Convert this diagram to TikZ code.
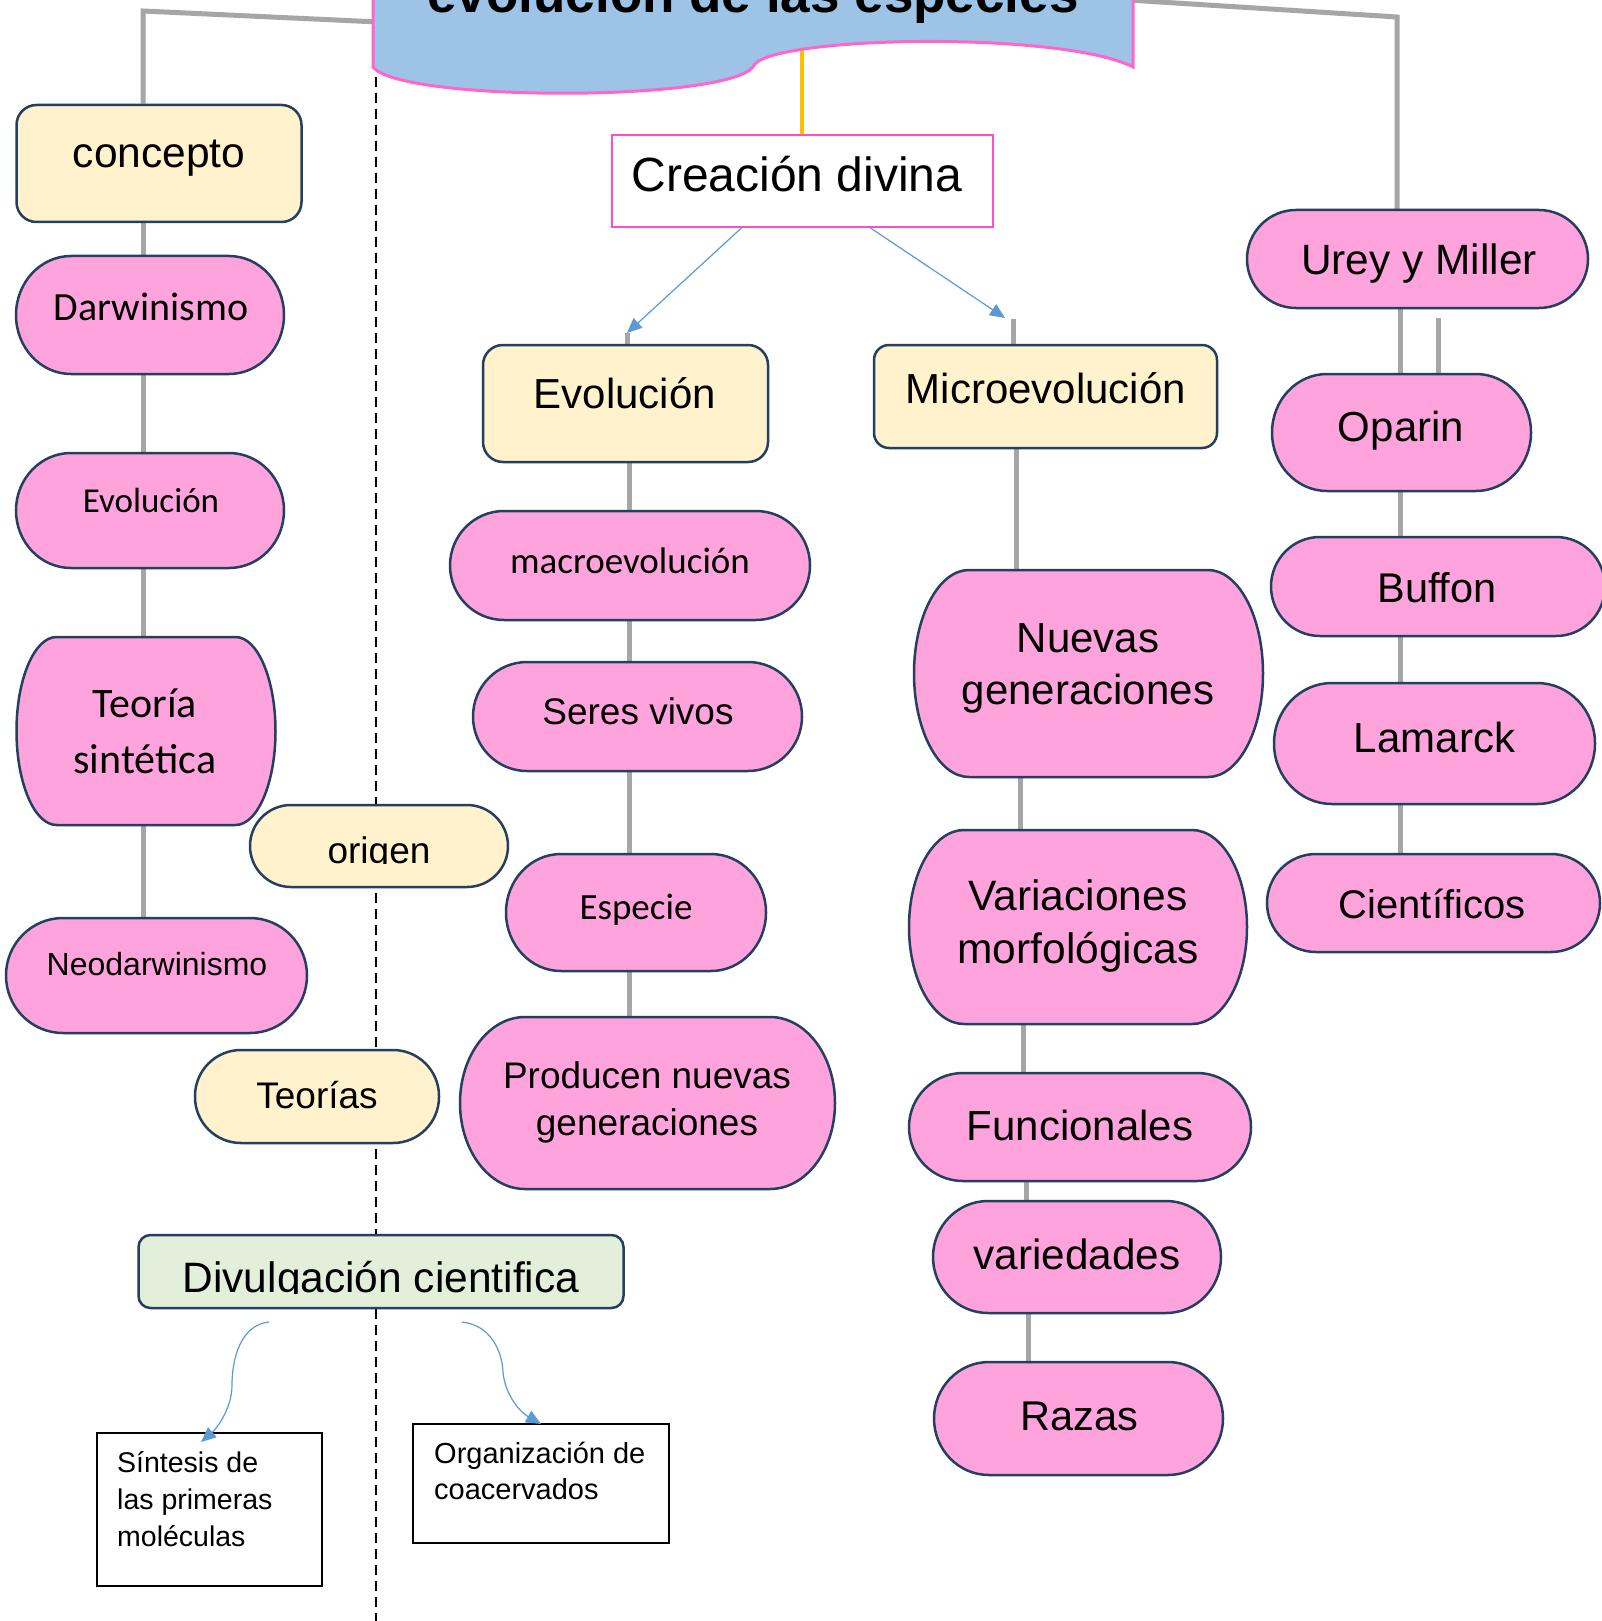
\documentclass[tikz,border=0pt]{standalone}
\usepackage{fontspec}
\setmainfont{Liberation Sans}
\newfontfamily\carl{Carlito}
\usetikzlibrary{arrows.meta}
\definecolor{pinkF}{HTML}{FFA3DC}
\definecolor{creamF}{HTML}{FFF2CC}
\definecolor{navyB}{HTML}{243F60}
\definecolor{greenF}{HTML}{E2EFDA}
\definecolor{bannerF}{HTML}{9DC3E6}
\definecolor{bannerB}{HTML}{FF66CC}
\definecolor{creaB}{HTML}{FF4DD2}
\definecolor{greyL}{HTML}{A6A6A6}
\definecolor{goldL}{HTML}{FFC000}
\definecolor{blueA}{HTML}{5B9BD5}
\pgfdeclarelayer{bg}
\pgfsetlayers{bg,main}
\tikzset{
  creambox/.style n args={3}{draw=navyB, fill=creamF, line width=2.5pt, rounded corners=#3pt, minimum width=#1pt, minimum height=#2pt, inner sep=0pt},
  greenbox/.style n args={3}{draw=navyB, fill=greenF, line width=2.5pt, rounded corners=#3pt, minimum width=#1pt, minimum height=#2pt, inner sep=0pt},
  plainbox/.style n args={2}{draw=black, fill=white, line width=1.8pt, minimum width=#1pt, minimum height=#2pt, inner sep=0pt},
  pinkshape/.style={draw=navyB, fill=pinkF, line width=2.5pt},
  txt/.style={inner sep=0pt, align=center},
  greyline/.style={draw=greyL, line width=5pt},
  bluearrow/.style={draw=blueA, line width=1.2pt, -{Triangle[length=15pt,width=13pt]}},
  dashline/.style={draw=black, line width=1.8pt, dash pattern=on 10pt off 6pt},
  goldline/.style={draw=goldL, line width=4pt}
}
% pink box with elliptical corners: name, cx, cy, w, h, rx
\newcommand{\ebox}[6]{%
  \node[inner sep=0pt, minimum width=#4pt, minimum height=#5pt] (#1) at (#2,#3) {};
  \pgfmathsetmacro{\eL}{#2-#4/2}\pgfmathsetmacro{\eR}{#2+#4/2}%
  \pgfmathsetmacro{\eT}{#3-#5/2}\pgfmathsetmacro{\eB}{#3+#5/2}%
  \pgfmathsetmacro{\eKX}{0.4477*#6}\pgfmathsetmacro{\eKY}{0.5523*#5/2}%
  \pgfmathsetmacro{\eA}{\eL+#6}\pgfmathsetmacro{\eZ}{\eR-#6}%
  \filldraw[pinkshape] (\eA,\eT) -- (\eZ,\eT)
    .. controls (\eR-\eKX,\eT) and (\eR,#3-\eKY) .. (\eR,#3)
    .. controls (\eR,#3+\eKY) and (\eR-\eKX,\eB) .. (\eZ,\eB) -- (\eA,\eB)
    .. controls (\eL+\eKX,\eB) and (\eL,#3+\eKY) .. (\eL,#3)
    .. controls (\eL,#3-\eKY) and (\eL+\eKX,\eT) .. (\eA,\eT) -- cycle;
}
\begin{document}
\begin{tikzpicture}[x=1pt,y=-1pt]
\useasboundingbox (0,0) rectangle (1602,1621);

% ---------- coordinates ----------
\coordinate (tL) at (143,11);
\coordinate (bL) at (378,22);
\coordinate (tR) at (1397,17);
\coordinate (bR) at (1128,0);
\coordinate (sR) at (1400,0);
\coordinate (xR) at (1438,318);
\coordinate (sM) at (629,0);
\coordinate (tipE) at (627,333);
\coordinate (tipM) at (1005,318);
\coordinate (m0) at (1013,319);
\coordinate (m1) at (1016,0);
\coordinate (m2) at (1020,0);
\coordinate (m3) at (1023,0);
\coordinate (m4) at (1026,0);
\coordinate (m5) at (1028,0);
\coordinate (dT) at (376,77);
\coordinate (dB) at (376,1621);
\coordinate (goldT) at (802,40);
\coordinate (a1s) at (742.5,227);
\coordinate (a2s) at (869,227);
\coordinate (c1s) at (269,1322);
\coordinate (c2s) at (462,1322);
\coordinate (c1e) at (201,1442);
\coordinate (c2e) at (541,1424);

% ---------- banner ----------
\filldraw[fill=bannerF, draw=bannerB, line width=3pt]
  (373,-60) -- (373,67) .. controls (400,102) and (725,102) .. (753,67)
  .. controls (762,36) and (1060,30) .. (1133,67) -- (1133,-60) -- cycle;
\node[anchor=base, inner sep=0pt, font=\bfseries\fontsize{53}{60}\selectfont] (title) at (753,13) {evolución de las especies};

% ---------- left column ----------
\node[creambox={285}{117}{20}] (concepto) at (159,163.5) {};
\node[txt, font=\fontsize{42.5}{50}\selectfont] (conceptoT) at (159,158) {concepto};
\ebox{darw}{150}{315}{268}{118}{55}
\node[txt, font=\carl\fontsize{40}{48}\selectfont] (darwT) at (151,307) {Darwinismo};
\ebox{evoL}{150}{510.5}{268}{115}{55}
\node[txt, font=\carl\fontsize{35}{42}\selectfont] (evoLT) at (151,500) {Evolución};
\ebox{teo}{146}{731}{259}{188}{40}
\node[txt, font=\carl\fontsize{42}{56}\selectfont] (teoT) at (145,731) {Teoría\\sintética};
\ebox{neo}{156.5}{975.5}{301}{115}{57}
\node[txt, font=\fontsize{32}{38}\selectfont] (neoT) at (157,964) {Neodarwinismo};
\node[creambox={258}{82}{41}] (origen) at (379,846) {};
\begin{scope}
  \clip (250,790) rectangle (508,863);
  \node[txt, font=\fontsize{37}{44}\selectfont] (origenT) at (379,854) {origen};
\end{scope}
\node[creambox={244}{93}{46}] (teorias) at (317,1096.5) {};
\node[txt, font=\fontsize{37}{44}\selectfont] (teoriasT) at (317,1095) {Teorías};
\node[greenbox={485}{73}{12}] (divul) at (381,1271.5) {};
\begin{scope}
  \clip (140,1236) rectangle (620,1293);
  \node[txt, font=\fontsize{42.5}{50}\selectfont] (divulT) at (381,1281) {Divulgación cientifica};
\end{scope}
\node[plainbox={225}{153}] (sint) at (209.5,1509.5) {};
\node[anchor=north west, inner sep=0pt, align=left, font=\fontsize{28.5}{37}\selectfont] (sintT) at (117,1451) {Síntesis de\\las primeras\\moléculas};
\node[plainbox={256}{119}] (org) at (541,1483.5) {};
\node[anchor=north west, inner sep=0pt, align=left, font=\fontsize{29}{36}\selectfont] (orgT) at (434,1442) {Organización de\\coacervados};

% ---------- middle column ----------
\node[draw=creaB, fill=white, line width=2pt, minimum width=381pt, minimum height=92pt, inner sep=0pt] (crea) at (802.5,181) {};
\node[txt, font=\fontsize{48}{56}\selectfont] (creaT) at (797,174) {Creación divina};
\node[creambox={285}{117}{20}] (evo) at (625.5,403.5) {};
\node[txt, font=\fontsize{42}{50}\selectfont] (evoT) at (625,393) {Evolución};
\node[creambox={343}{103}{15}] (micro) at (1045.5,396.5) {};
\node[txt, font=\fontsize{42}{50}\selectfont] (microT) at (1046,388) {Microevolución};
\ebox{macro}{630}{565.5}{360}{109}{54}
\node[txt, font=\carl\fontsize{37}{44}\selectfont] (macroT) at (630,561) {macroevolución};
\ebox{seres}{637.5}{716.5}{329}{109}{54}
\node[txt, font=\fontsize{37}{44}\selectfont] (seresT) at (638,711) {Seres vivos};
\ebox{especie}{636}{912.5}{260}{117}{55}
\node[txt, font=\carl\fontsize{37}{44}\selectfont] (especieT) at (636,910) {Especie};
\ebox{prod}{647.5}{1103}{375}{172}{65}
\node[txt, font=\fontsize{37}{47}\selectfont] (prodT) at (647,1102) {Producen nuevas\\generaciones};

% ---------- micro column ----------
\ebox{nuevas}{1088.5}{673.5}{349}{207}{55}
\node[txt, font=\fontsize{42}{52}\selectfont] (nuevasT) at (1088,668) {Nuevas\\generaciones};
\ebox{varia}{1078}{927}{338}{194}{55}
\node[txt, font=\fontsize{42.5}{53}\selectfont] (variaT) at (1078,926) {Variaciones\\morfológicas};
\ebox{func}{1080}{1127}{342}{108}{54}
\node[txt, font=\fontsize{42}{50}\selectfont] (funcT) at (1080,1125) {Funcionales};
\ebox{vari}{1077}{1257}{288}{112}{55}
\node[txt, font=\fontsize{42.3}{50}\selectfont] (variT) at (1077,1254) {variedades};
\ebox{razas}{1078.5}{1418.5}{289}{113}{55}
\node[txt, font=\fontsize{41.6}{50}\selectfont] (razasT) at (1079,1416) {Razas};

% ---------- right column ----------
\ebox{urey}{1417.5}{259}{341}{98}{49}
\node[txt, font=\fontsize{42.4}{50}\selectfont] (ureyT) at (1419,264) {Urey y Miller};
\ebox{oparin}{1401.5}{432.5}{259}{117}{55}
\node[txt, font=\fontsize{42}{50}\selectfont] (oparinT) at (1401,431) {Oparin};
\ebox{buffon}{1438}{586.5}{334}{99}{49}
\node[txt, font=\fontsize{41.5}{50}\selectfont] (buffonT) at (1437,588) {Buffon};
\ebox{lamarck}{1434.5}{743.5}{321}{121}{58}
\node[txt, font=\fontsize{42}{50}\selectfont] (lamarckT) at (1434.5,737) {Lamarck};
\ebox{cient}{1433.5}{903}{333}{98}{49}
\node[txt, font=\fontsize{40}{48}\selectfont] (cientT) at (1432,904) {Científicos};

% ---------- connectors (background) ----------
\begin{pgfonlayer}{bg}
\fill[white] (0,0) rectangle (1602,1621);
\draw[dashline] (dT) -- (dB);
\draw[greyline] (bL) -- (tL) -- (tL |- concepto.north);
\draw[greyline] (tL |- concepto.south) -- (tL |- darw.north);
\draw[greyline] (tL |- darw.south) -- (tL |- evoL.north);
\draw[greyline] (tL |- evoL.south) -- (tL |- teo.north);
\draw[greyline] (tL |- teo.south) -- ([yshift=-7pt]tL |- neo.north);
\draw[greyline] (bR) -- (tR) -- (tR |- urey.north);
\draw[greyline] (sR |- urey.south) -- (sR |- oparin.north);
\draw[greyline] (xR) -- (xR |- oparin.north);
\draw[greyline] (sR |- oparin.south) -- (sR |- buffon.north);
\draw[greyline] (sR |- buffon.south) -- (sR |- lamarck.north);
\draw[greyline] (sR |- lamarck.south) -- (sR |- cient.north);
\draw[greyline] (tipE) -- (tipE |- evo.north);
\draw[greyline] (sM |- evo.south) -- (sM |- macro.north);
\draw[greyline] (sM |- macro.south) -- (sM |- seres.north);
\draw[greyline] (sM |- seres.south) -- (sM |- especie.north);
\draw[greyline] (sM |- especie.south) -- (sM |- prod.north);
\draw[greyline] (m0) -- (m0 |- micro.north);
\draw[greyline] (m1 |- micro.south) -- (m1 |- nuevas.north);
\draw[greyline] (m2 |- nuevas.south) -- (m2 |- varia.north);
\draw[greyline] (m3 |- varia.south) -- (m3 |- func.north);
\draw[greyline] (m4 |- func.south) -- (m4 |- vari.north);
\draw[greyline] (m5 |- vari.south) -- (m5 |- razas.north);
\draw[goldline] (goldT) -- (goldT |- crea.north);
\end{pgfonlayer}

% ---------- arrows ----------
\draw[bluearrow] (a1s) -- (tipE);
\draw[bluearrow] (a2s) -- (tipM);
\draw[bluearrow] (c1s) .. controls (240,1325) and (232,1360) .. (232,1385)
  .. controls (232,1410) and (215,1430) .. (c1e);
\draw[bluearrow] (c2s) .. controls (490,1325) and (502,1350) .. (503,1372)
  .. controls (505,1395) and (520,1412) .. (c2e);
\end{tikzpicture}
\end{document}
